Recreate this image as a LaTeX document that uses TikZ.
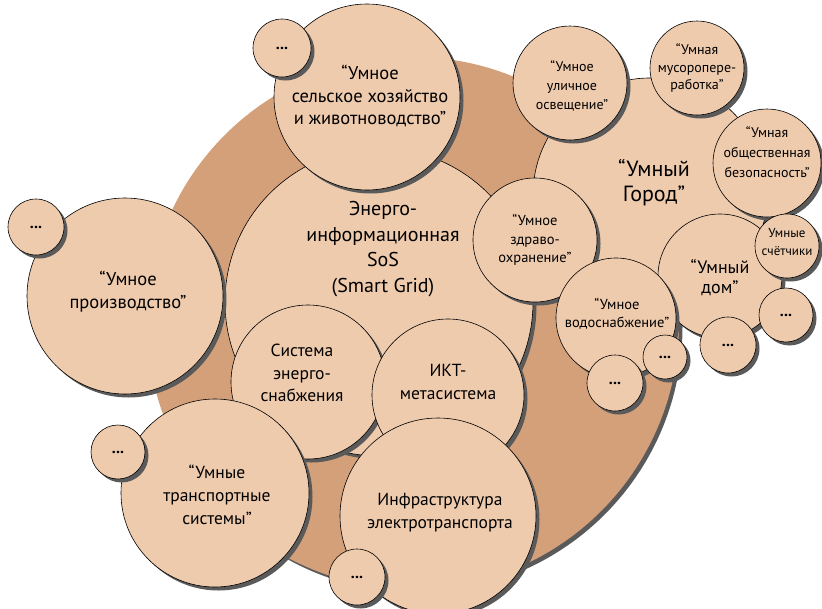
\documentclass[tikz,border=0pt]{standalone}
\usepackage{fontspec}
\setmainfont{PT Sans}
\usetikzlibrary{shadows}
\definecolor{darkpeach}{HTML}{D4A07A}
\definecolor{lightpeach}{HTML}{EFCBAE}
\definecolor{shadowgrey}{HTML}{5A5A5A}
\newcommand{\fs}[2]{\fontsize{#1}{#2}\selectfont}
\tikzset{
  bubble/.style={circle, draw=black, line width=0.6pt, fill=lightpeach, inner sep=0pt,
    minimum size=#1, drop shadow={shadow xshift=3.5pt, shadow yshift=-3.5pt, fill=shadowgrey, opacity=1}},
  txt/.style={align=center, inner sep=0pt},
  dots/.style={inner sep=0pt, font=\fs{16}{16}\bfseries}
}
\begin{document}
\begin{tikzpicture}[x=1pt,y=-1pt]
\useasboundingbox (0,0) rectangle (822,608);
% background big circle
\node[circle, fill=darkpeach, inner sep=0pt, minimum size=532,
  drop shadow={shadow xshift=3.5pt, shadow yshift=-3.5pt, fill=shadowgrey, opacity=1}] (base) at (413,323) {};
% Smart Grid cluster
\node[bubble=308] (grid) at (379,302) {};
\node[bubble=154] (energy) at (308,382) {};
\node[bubble=152] (ict) at (448,395) {};
\node[bubble=196] (manuf) at (125,296) {};
\node[bubble=56] (dmanuf) at (36,227) {};
\node[bubble=186] (agri) at (367,97) {};
\node[bubble=58] (dagri) at (282,48) {};
\node[bubble=188] (trans) at (215,493) {};
\node[bubble=54] (dtrans) at (118,452) {};
\node[bubble=196] (infra) at (438,516) {};
\node[bubble=56] (dinfra) at (357,577) {};
% Smart City cluster
\node[bubble=234] (city) at (650,195) {};
\node[bubble=114] (light) at (570,83) {};
\node[bubble=94] (garb) at (697,68) {};
\node[bubble=108] (secur) at (767,163) {};
\node[bubble=124] (health) at (535,240) {};
\node[bubble=124] (home) at (720,276) {};
\node[bubble=64] (meter) at (787,246) {};
\node[bubble=54] (dhome1) at (786,315) {};
\node[bubble=56] (dhome2) at (728,345) {};
\node[bubble=120] (water) at (616,318) {};
\node[bubble=44] (dwater1) at (665,357) {};
\node[bubble=56] (dwater2) at (615,383) {};
% texts
\node[txt, font=\fs{20}{25.5}] (tgrid) at (383,249) {Энерго-\\информационная\\SoS\\(Smart Grid)};
\node[txt, font=\fs{17.5}{22.5}] (tenergy) at (302,373) {Система\\энерго-\\снабжения};
\node[txt, font=\fs{17.5}{23}] (tict) at (448,382) {ИКТ-\\метасистема};
\node[txt, font=\fs{18.5}{23}] (tmanuf) at (128,292) {“Умное\\производство”};
\node[txt, font=\fs{18.5}{22.5}] (tagri) at (370,96) {“Умное\\сельское хозяйство\\и животноводство”};
\node[txt, font=\fs{17.5}{23}] (ttrans) at (217,495) {“Умные\\транспортные\\системы”};
\node[txt, font=\fs{17.5}{23}] (tinfra) at (440,513) {Инфраструктура\\электротранспорта};
\node[txt, font=\fs{22}{25}] (tcity) at (654,183) {“Умный\\Город”};
\node[txt, font=\fs{14}{19}] (tlight) at (572,86) {“Умное\\уличное\\освещение”};
\node[txt, font=\fs{14}{17.5}] (tgarb) at (697,68) {“Умная\\мусоропере-\\работка”};
\node[txt, font=\fs{14}{20}] (tsecur) at (767,152) {“Умная\\общественная\\безопасность”};
\node[txt, font=\fs{14.5}{18.5}] (thealth) at (535,240) {“Умное\\здраво-\\охранение”};
\node[txt, font=\fs{14.5}{18}] (twater) at (617,314) {“Умное\\водоснабжение”};
\node[txt, font=\fs{18}{20}] (thome) at (720,278) {“Умный\\дом”};
\node[txt, font=\fs{13}{18}] (tmeter) at (787,242) {Умные\\счётчики};
% dots
\foreach \n in {dmanuf,dagri,dtrans,dinfra,dhome1,dhome2,dwater1,dwater2}
  \node[dots] at (\n.center) {...};
\end{tikzpicture}
\end{document}
